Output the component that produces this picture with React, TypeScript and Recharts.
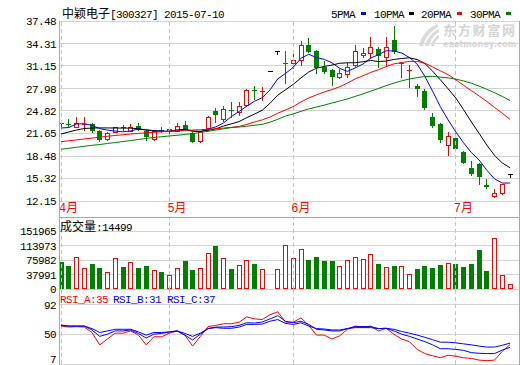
import { ComposedChart, Bar, Line, XAxis, YAxis, CartesianGrid, ReferenceLine } from 'recharts'

const FONT = "'Liberation Mono', 'DejaVu Sans Mono', 'Noto Sans CJK SC', monospace"
const RED = '#ff0000'
const GREEN = '#008000'
const BLUE = '#0000ff'
const GRID = '#d4d4d4'
const FRAME = '#a8a8a8'
const DASH = '#c4c4c4'

// x positions are trading-day indexes; month labels sit on the first day of each month
const monthTicks = [0, 14, 30, 51]
const monthLabels = ['4月', '5月', '6月', '7月']
const priceTicks = [12.15, 15.32, 18.48, 21.65, 24.82, 27.98, 31.15, 34.31, 37.48]
const volTicks = [0, 37991, 75982, 113973, 151965]
const rsiTicks = [7, 50, 92]

const open = [23.08, 22.92, 22.63, 22.85, 22.94, 22.0, 20.83, 21.86, 22.5, 22.07, 22.7, 22.0, 20.83, 22.18, 22.07, 22.07, 22.78, 21.65, 20.59, 22.42, 24.84, 23.62, 24.96, 24.67, 25.66, 27.84, 27.49, 30.39, 33.2, 31.43, 31.53, 31.99, 34.1, 33.3, 31.05, 30.59, 29.6, 30.02, 31.29, 32.7, 32.93, 33.5, 32.46, 34.81, 31.5, 30.52, 28.33, 27.67, 23.93, 22.99, 20.03, 20.97, 19.09, 16.75, 17.36, 14.4, 12.85, 13.23, 15.99]
const high = [23.4, 23.7, 24.04, 24.04, 23.13, 22.14, 21.86, 22.6, 22.85, 23.0, 23.13, 22.21, 22.14, 22.6, 22.42, 23.13, 23.41, 21.86, 22.0, 24.11, 25.24, 25.45, 26.12, 26.08, 27.98, 28.33, 28.24, 30.39, 33.2, 33.3, 33.08, 34.71, 35.05, 33.4, 31.92, 30.73, 30.68, 31.61, 34.1, 33.64, 35.19, 33.78, 35.19, 36.78, 31.78, 31.29, 28.61, 27.87, 24.49, 23.08, 21.9, 21.68, 19.23, 17.82, 17.46, 15.2, 13.8, 14.54, 15.99]
const low = [22.65, 22.5, 22.56, 22.14, 21.86, 20.6, 20.73, 21.8, 22.14, 22.0, 22.14, 20.73, 20.8, 21.9, 21.3, 22.0, 22.14, 20.45, 20.52, 22.14, 23.31, 23.41, 23.97, 24.25, 25.52, 26.5, 26.36, 30.39, 32.8, 28.72, 30.82, 31.29, 33.12, 30.12, 30.12, 28.47, 29.39, 29.56, 31.15, 32.46, 32.23, 31.05, 31.15, 32.93, 29.53, 28.26, 26.93, 25.1, 22.63, 20.5, 18.62, 19.26, 17.46, 15.81, 14.5, 13.94, 12.67, 13.2, 15.57]
const close = [23.03, 22.85, 23.15, 22.92, 22.0, 20.8, 21.72, 22.5, 22.45, 22.56, 22.2, 21.09, 22.0, 22.14, 22.28, 22.64, 22.24, 20.52, 21.86, 24.04, 24.25, 25.1, 24.89, 25.48, 27.77, 27.7, 27.63, 30.39, 33.2, 31.57, 31.99, 34.1, 33.16, 30.82, 30.35, 29.56, 30.16, 31.05, 33.3, 33.02, 33.78, 32.55, 33.78, 33.16, 31.61, 30.61, 27.87, 25.19, 22.7, 20.73, 21.3, 19.43, 17.54, 15.91, 15.49, 14.08, 13.32, 14.54, 15.99]
const volume = [72300, 60900, 83900, 54800, 66200, 54800, 44200, 81300, 57400, 70700, 54800, 60900, 49500, 44200, 37100, 54800, 74100, 50300, 54800, 94500, 113800, 81300, 52900, 63500, 76800, 66200, 52200, 1500, 52200, 116500, 81300, 105100, 76800, 83900, 74100, 74100, 60900, 76800, 83900, 78600, 92700, 66200, 57400, 60900, 60900, 38900, 52900, 60900, 56400, 63500, 68000, 66200, 59000, 66200, 103300, 48500, 134200, 37100, 14499]

const ma5 = [22.42, 22.49, 22.99, 23.03, 22.79, 22.34, 22.12, 21.99, 21.89, 22.01, 22.29, 22.16, 22.06, 22.0, 21.94, 22.03, 22.26, 21.96, 21.91, 22.26, 22.58, 23.15, 24.03, 24.75, 25.5, 26.19, 26.69, 27.79, 29.34, 30.1, 30.96, 32.25, 32.8, 32.33, 32.08, 31.6, 30.81, 30.39, 30.88, 31.42, 32.26, 32.74, 33.29, 33.26, 32.98, 32.34, 31.41, 29.69, 27.6, 25.42, 23.56, 21.87, 20.34, 18.98, 17.93, 16.49, 15.27, 14.67, 14.68]
const ma10 = [21.58, 21.86, 22.14, 22.35, 22.42, 22.44, 22.43, 22.42, 22.41, 22.4, 22.32, 22.14, 22.02, 21.95, 21.97, 22.16, 22.21, 22.01, 21.95, 22.1, 22.31, 22.71, 23.0, 23.33, 23.88, 24.39, 24.92, 25.91, 27.05, 27.8, 28.57, 29.47, 30.3, 30.83, 31.09, 31.28, 31.53, 31.6, 31.61, 31.75, 31.93, 31.78, 31.84, 32.07, 32.2, 32.3, 32.07, 31.49, 30.43, 29.2, 27.95, 26.64, 25.01, 23.29, 21.68, 20.02, 18.57, 17.5, 16.83]
const ma20 = [20.5, 20.62, 20.75, 20.88, 21.0, 21.13, 21.26, 21.37, 21.48, 21.58, 21.66, 21.75, 21.82, 21.89, 21.96, 22.03, 22.09, 22.13, 22.18, 22.25, 22.31, 22.42, 22.51, 22.64, 22.93, 23.27, 23.57, 23.96, 24.5, 24.95, 25.44, 26.09, 26.65, 27.08, 27.49, 27.83, 28.23, 28.75, 29.33, 29.77, 30.25, 30.62, 31.07, 31.45, 31.64, 31.79, 31.8, 31.54, 31.02, 30.47, 29.94, 29.21, 28.43, 27.68, 26.94, 26.16, 25.32, 24.5, 23.63]
const ma30 = [19.43, 19.57, 19.71, 19.85, 19.99, 20.1, 20.24, 20.38, 20.52, 20.66, 20.8, 20.95, 21.09, 21.2, 21.3, 21.4, 21.51, 21.65, 21.79, 21.96, 22.14, 22.31, 22.48, 22.56, 22.68, 22.8, 22.94, 23.24, 23.65, 24.1, 24.4, 24.77, 25.11, 25.37, 25.65, 25.94, 26.22, 26.51, 26.87, 27.22, 27.6, 27.98, 28.38, 28.74, 29.06, 29.32, 29.51, 29.66, 29.69, 29.58, 29.48, 29.3, 29.05, 28.73, 28.32, 27.87, 27.39, 26.86, 26.29]

const rsiA = [61.6, 60.2, 60.8, 60.2, 52.4, 34.6, 43, 51.4, 51.4, 54.6, 48.6, 34.6, 46.2, 46.2, 51.4, 54.6, 48.6, 32.8, 46.8, 60.8, 62.6, 65, 65, 67.2, 74.8, 72, 71, 78, 82.2, 67.2, 67.2, 73.4, 62.6, 48.6, 48.6, 43, 47.6, 57, 61.6, 60.2, 61.6, 54.6, 58.4, 50, 43, 39.2, 28, 22, 18.8, 16, 19.6, 18.2, 16, 15, 12.6, 11.8, 12.6, 25.2, 35]
const rsiB = [63, 61.6, 61.6, 61.6, 56, 46.8, 50, 54.6, 54.6, 56, 51, 44.4, 50, 51, 53.2, 54.6, 48.6, 41.6, 50, 58, 60.2, 60.2, 60.8, 62.6, 66.4, 66, 67.5, 72, 76.6, 68.6, 66.4, 68.6, 64, 57, 56, 54.6, 54.6, 58, 60.8, 60.8, 60.8, 58, 58.4, 54.6, 50, 46.8, 43, 39.2, 34.6, 29, 29, 28, 26.6, 23.4, 22.4, 22, 22, 27, 31]
const rsiC = [63, 61.6, 61.6, 61.6, 58, 52.4, 54.6, 57, 57, 57, 53.2, 48.6, 52.4, 52.4, 53.2, 54.6, 51, 46.8, 51.4, 58, 59.4, 58.4, 58.4, 60.2, 64, 64, 64.5, 68.6, 71, 65.4, 64, 66.4, 61.6, 58, 57.4, 56, 56, 58, 59.4, 59.4, 59.4, 58, 58.4, 57, 53.8, 51.4, 48.6, 45.4, 42, 38.4, 38.4, 37.4, 36, 34.6, 32.8, 31.4, 31.4, 34, 37]

const rows = open.map((o, i) => ({
  i,
  open: o,
  high: high[i],
  low: low[i],
  close: close[i],
  range: [low[i], high[i]],
  vol: volume[i],
  ma5: ma5[i],
  ma10: ma10[i],
  ma20: ma20[i],
  ma30: ma30[i],
  rsiA: rsiA[i],
  rsiB: rsiB[i],
  rsiC: rsiC[i],
}))

const X_DOMAIN: [number, number] = [-0.26, 59.16]

const Candle = (props: any) => {
  const { x, y, width, height, payload } = props
  if (x == null || y == null || !payload) return null
  const c = Math.round(x + width / 2)
  const top = Math.min(y, y + (height || 0))
  const bot = Math.max(y, y + (height || 0))
  const span = payload.high - payload.low
  const py = (v: number) => (span > 0 ? top + ((payload.high - v) / span) * (bot - top) : top)
  const yh = Math.round(top)
  const yl = Math.round(bot)
  const yo = Math.round(py(payload.open))
  const yc = Math.round(py(payload.close))
  const bTop = Math.min(yo, yc)
  const bBot = Math.max(yo, yc)
  const px = c + 0.5
  if (payload.close === payload.open) {
    return (
      <g shapeRendering="crispEdges">
        {yl > yh && <line x1={px} y1={yh} x2={px} y2={yl + 1} stroke="#000" />}
        <line x1={c - 2} y1={yo + 0.5} x2={c + 3} y2={yo + 0.5} stroke="#000" />
      </g>
    )
  }
  if (payload.close > payload.open) {
    if (bBot - bTop < 2) {
      return (
        <g shapeRendering="crispEdges">
          <line x1={px} y1={yh} x2={px} y2={yl + 1} stroke={RED} />
          <line x1={c - 2} y1={bTop + 0.5} x2={c + 3} y2={bTop + 0.5} stroke={RED} />
        </g>
      )
    }
    return (
      <g shapeRendering="crispEdges">
        {bTop > yh && <line x1={px} y1={yh} x2={px} y2={bTop} stroke={RED} />}
        {yl > bBot && <line x1={px} y1={bBot + 1} x2={px} y2={yl + 1} stroke={RED} />}
        <rect x={c - 1.5} y={bTop + 0.5} width={4} height={bBot - bTop} fill="#fff" stroke={RED} />
      </g>
    )
  }
  return (
    <g shapeRendering="crispEdges">
      <line x1={px} y1={yh} x2={px} y2={yl + 1} stroke={GREEN} />
      <rect x={c - 2} y={bTop} width={5} height={Math.max(bBot - bTop, 1)} fill={GREEN} />
    </g>
  )
}

const VolBar = (props: any) => {
  const { x, y, width, height, payload } = props
  if (x == null || y == null || !payload) return null
  const c = Math.round(x + width / 2)
  const top = Math.round(Math.min(y, y + (height || 0)))
  const bot = Math.round(Math.max(y, y + (height || 0)))
  if (payload.close >= payload.open) {
    return (
      <rect x={c - 1.5} y={top + 0.5} width={4} height={Math.max(bot - top - 1, 0)} fill="#fff" stroke={RED} shapeRendering="crispEdges" />
    )
  }
  return <rect x={c - 2} y={top} width={5} height={bot - top} fill={GREEN} shapeRendering="crispEdges" />
}

const NumTick = ({ x, y, payload, digits, lift }: any) => (
  <text
    x={x}
    y={y}
    dy={4 - (lift && payload.value === lift ? 5 : 0)}
    textAnchor="end"
    fontSize={11}
    fontFamily={FONT}
    letterSpacing={-0.6}
    fill="#000"
  >
    {payload.value.toFixed(digits)}
  </text>
)

const MonthTick = ({ x, y, payload }: any) => (
  <text x={x - 2} y={y + 11} fontSize={12} fontFamily={FONT} fill={RED}>
    {monthLabels[monthTicks.indexOf(payload.value)]}
  </text>
)

const monthLines = monthTicks.map(m => (
  <ReferenceLine key={m} x={m} stroke={DASH} strokeDasharray="4 3" />
))

export default function App() {
  return (
    <div style={{ position: 'relative', width: 520, height: 365, background: '#fff', overflow: 'hidden' }}>
      <style>{`body{margin:0} .recharts-cartesian-grid line, .recharts-reference-line line{shape-rendering:crispEdges}`}</style>

      <div style={{ position: 'absolute', left: 0, top: 0 }}>
        <ComposedChart width={520} height={220} data={rows} margin={{ top: 21, right: 1, bottom: 3, left: 0 }}>
          <CartesianGrid vertical={false} stroke={GRID} />
          <XAxis
            dataKey="i" type="number" domain={X_DOMAIN} allowDataOverflow
            ticks={monthTicks} interval={0} tick={<MonthTick />}
            tickLine={false} axisLine={false} height={16} tickSize={0} tickMargin={0}
          />
          <YAxis
            domain={[12.15, 37.48]} allowDataOverflow ticks={priceTicks} interval={0}
            tick={<NumTick digits={2} />} tickLine={false} axisLine={false} width={59} tickSize={0} tickMargin={3}
          />
          {monthLines}
          <Bar dataKey="range" barSize={5} shape={(p: any) => <Candle {...p} />} isAnimationActive={false} />
          <Line dataKey="ma5" stroke={BLUE} strokeWidth={1} dot={false} isAnimationActive={false} />
          <Line dataKey="ma10" stroke="#000" strokeWidth={1} dot={false} isAnimationActive={false} />
          <Line dataKey="ma20" stroke={RED} strokeWidth={1} dot={false} isAnimationActive={false} />
          <Line dataKey="ma30" stroke={GREEN} strokeWidth={1} dot={false} isAnimationActive={false} />
        </ComposedChart>
      </div>

      <div style={{ position: 'absolute', left: 0, top: 217 }}>
        <ComposedChart width={520} height={82} data={rows} margin={{ top: 0, right: 1, bottom: 10, left: 0 }}>
          <CartesianGrid vertical={false} stroke={GRID} />
          <XAxis dataKey="i" type="number" domain={X_DOMAIN} allowDataOverflow hide />
          <YAxis
            domain={[0, 190000]} allowDataOverflow ticks={volTicks} interval={0}
            tick={<NumTick digits={0} lift={0.0001} />} tickLine={false} axisLine={false} width={59} tickSize={0} tickMargin={3}
          />
          {monthLines}
          <Bar dataKey="vol" barSize={5} shape={(p: any) => <VolBar {...p} />} isAnimationActive={false} />
        </ComposedChart>
      </div>

      <div style={{ position: 'absolute', left: 0, top: 289 }}>
        <ComposedChart width={520} height={76} data={rows} margin={{ top: 0, right: 1, bottom: 1, left: 0 }}>
          <CartesianGrid vertical={false} stroke={GRID} />
          <XAxis dataKey="i" type="number" domain={X_DOMAIN} allowDataOverflow hide />
          <YAxis
            domain={[7, 115]} allowDataOverflow ticks={rsiTicks} interval={0}
            tick={<NumTick digits={0} lift={7} />} tickLine={false} axisLine={false} width={59} tickSize={0} tickMargin={3}
          />
          {monthLines}
          <Line dataKey="rsiA" stroke={RED} strokeWidth={1} dot={false} isAnimationActive={false} />
          <Line dataKey="rsiB" stroke={BLUE} strokeWidth={1} dot={false} isAnimationActive={false} />
          <Line dataKey="rsiC" stroke={BLUE} strokeWidth={1} dot={false} isAnimationActive={false} />
        </ComposedChart>
      </div>

      <svg width={520} height={365} style={{ position: 'absolute', left: 0, top: 0, pointerEvents: 'none' }}>
        <g shapeRendering="crispEdges" stroke={FRAME}>
          <line x1={59.5} y1={21} x2={59.5} y2={365} />
          <line x1={519.5} y1={21} x2={519.5} y2={365} />
          <line x1={59} y1={217.5} x2={520} y2={217.5} />
        </g>

        <g fill="#dadada">
          <path d="M419 46 C421 36 428 28 437 24 L438 27 C431 31 425 38 423 46 Z" />
          <path d="M425 46 C427 38 432 32 439 29 L439 32 C434 35 430 40 429 46 Z" />
          <path d="M431 46 C432 41 435 37 439 35 L439 38 C436 40 434 43 434 46 Z" />
        </g>
        <text x={443} y={35} fontSize={13} fontWeight="bold" fontFamily="'Noto Sans CJK SC', sans-serif" fill="#d4d4d4" textLength={72}>
          东方财富网
        </text>
        <text x={443} y={47} fontSize={8} fontWeight="bold" fontFamily="'DejaVu Sans', sans-serif" fill="#d4d4d4" textLength={73}>
          eastmoney.com
        </text>

        <text x={62} y={18} fontSize={11} fontFamily={FONT} letterSpacing={-0.6} fill="#000">
          <tspan fontSize={12} letterSpacing={0}>中颖电子</tspan>
          <tspan>[300327] 2015-07-10</tspan>
        </text>

        <g fontSize={11} fontFamily={FONT} letterSpacing={-0.6} fill="#000">
          <text x={331} y={18}>5PMA</text>
          <text x={374} y={18}>10PMA</text>
          <text x={421} y={18}>20PMA</text>
          <text x={470} y={18}>30PMA</text>
        </g>
        <rect x={361} y={12} width={5} height={3} fill={BLUE} />
        <rect x={409} y={12} width={5} height={3} fill="#000" />
        <rect x={457} y={12} width={5} height={3} fill={RED} />
        <rect x={506} y={12} width={5} height={3} fill={GREEN} />

        <text x={60} y={231} fontSize={11} fontFamily={FONT} letterSpacing={-0.6} fill="#000">
          <tspan fontSize={12} letterSpacing={0}>成交量</tspan>
          <tspan>:14499</tspan>
        </text>

        <g fontSize={11} fontFamily={FONT} letterSpacing={-0.6}>
          <text x={60} y={303} fill={RED}>RSI_A:35</text>
          <text x={113} y={303} fill={BLUE}>RSI_B:31</text>
          <text x={167} y={303} fill={BLUE}>RSI_C:37</text>
        </g>
      </svg>
    </div>
  )
}
